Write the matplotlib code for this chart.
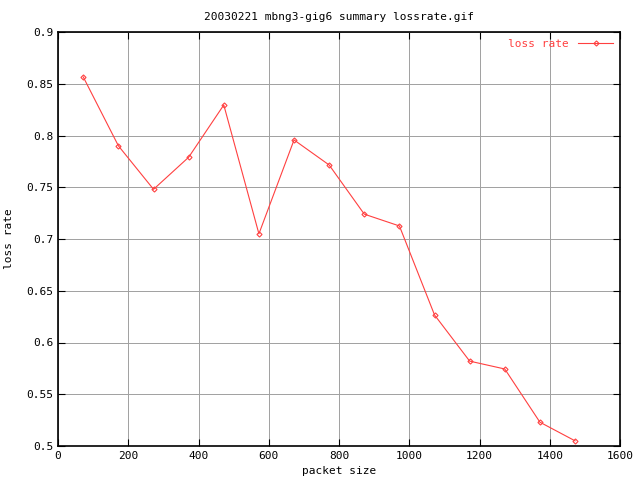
import matplotlib
matplotlib.use("Agg")
import matplotlib.pyplot as plt

packet_size = [72, 172, 272, 372, 472, 572, 672, 772, 872, 972, 1072, 1172, 1272, 1372, 1472]
loss_rate = [0.8565, 0.790, 0.748, 0.779, 0.8295, 0.705, 0.7957, 0.7715, 0.724, 0.7126,
             0.6266, 0.582, 0.5744, 0.523, 0.505]
xticks = [0, 200, 400, 600, 800, 1000, 1200, 1400, 1600]
yticks = [0.5, 0.55, 0.6, 0.65, 0.7, 0.75, 0.8, 0.85, 0.9]
ytick_labels = ["0.5", "0.55", "0.6", "0.65", "0.7", "0.75", "0.8", "0.85", "0.9"]

plt.rcParams['font.family'] = ['DejaVu Sans Mono']
plt.rcParams['font.size'] = 8

fig = plt.figure(figsize=(6.4, 4.8), dpi=100)
ax = fig.add_axes([58/640, 34/480, 562/640, 414/480])

red = '#ff4040'
ax.plot(packet_size, loss_rate, color=red, linewidth=0.8, marker='D', markersize=2.6,
        markerfacecolor='none', markeredgecolor=red, markeredgewidth=0.8, label='loss rate')

ax.set_xlim(0, 1600)
ax.set_ylim(0.5, 0.9)
ax.set_xticks(xticks)
ax.set_yticks(yticks)
ax.set_yticklabels(ytick_labels)
ax.grid(True, color='#a0a0a0', linewidth=0.7)
ax.set_axisbelow(True)
ax.tick_params(direction='in', length=5, width=0.8, top=True, right=True, labelsize=8)
for s in ax.spines.values():
    s.set_linewidth(1.2)

ax.set_title('20030221 mbng3-gig6 summary lossrate.gif', fontsize=8, pad=9)
ax.set_xlabel('packet size', fontsize=8, labelpad=4)
ax.set_ylabel('loss rate', fontsize=8, labelpad=9)

leg = ax.legend(loc='upper right', frameon=False, markerfirst=False, fontsize=8,
                handlelength=3.2, borderaxespad=0.2)
for t in leg.get_texts():
    t.set_color(red)

fig.savefig('out.png', dpi=100)
